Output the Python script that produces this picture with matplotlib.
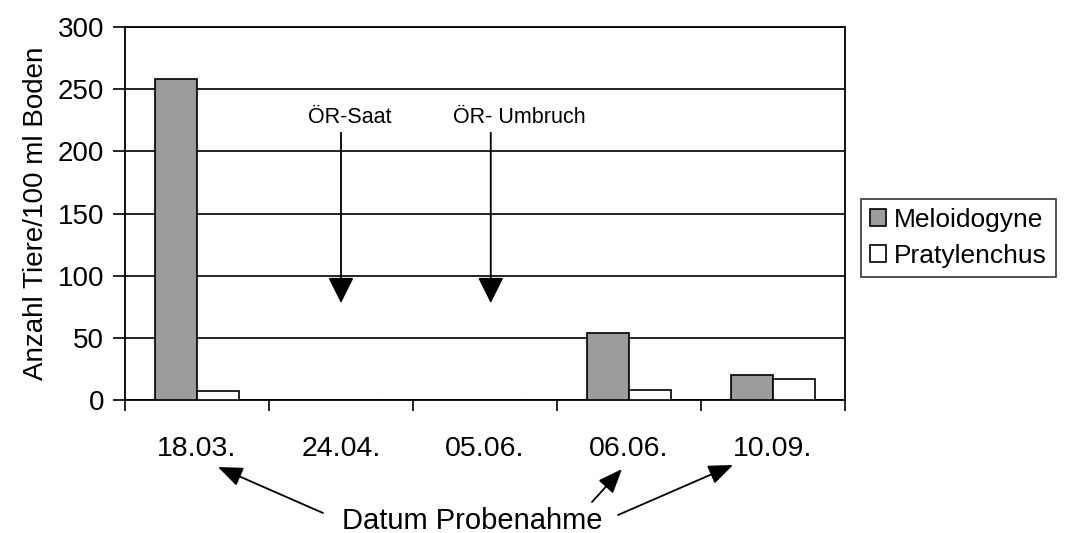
import numpy as np
import matplotlib
matplotlib.use("Agg")
import matplotlib.pyplot as plt
from matplotlib.ticker import FixedLocator

plt.rcParams['font.family'] = ['Liberation Sans', 'DejaVu Sans']

dates = ['18.03.', '24.04.', '05.06.', '06.06.', '10.09.']
meloidogyne = [258, 0, 0, 54, 20]
pratylenchus = [7, 0, 0, 8, 17]
events = ['ÖR-Saat', 'ÖR- Umbruch']
event_pos = [1.0, 2.04]

fig = plt.figure(figsize=(10.66, 5.33), dpi=100)
ax = fig.add_axes([125/1066, 1-400/533, 720/1066, 373/533])

x = np.arange(len(dates))
w = 0.29
ax.bar(x - w/2, meloidogyne, w, color='#9c9c9c', edgecolor='black', lw=1.2,
       label='Meloidogyne', zorder=3)
ax.bar(x + w/2, pratylenchus, w, color='white', edgecolor='black', lw=1.2,
       label='Pratylenchus', zorder=3)

ax.set_xlim(-0.5, len(dates) - 0.5)
ax.set_ylim(0, 300)
ax.set_yticks(range(0, 301, 50))
ax.yaxis.grid(True, color='black', lw=1.2, zorder=0)
ax.set_xticks(x)
ax.set_xticklabels(dates, fontsize=20.5)
ax.xaxis.set_minor_locator(FixedLocator(np.arange(-0.5, len(dates), 1)))
ax.tick_params(axis='x', which='major', length=0, pad=26)
ax.tick_params(axis='x', which='minor', length=8, width=1.2, direction='out')
ax.tick_params(axis='y', labelsize=20, length=9, width=1.2, pad=6)
for s in ax.spines.values():
    s.set_linewidth(1.3)
ax.set_ylabel('Anzahl Tiere/100 ml Boden', fontsize=20, labelpad=6)

# Pfeile für ÖR-Termine
for lbl, xp, dx in zip(events, event_pos, [0.06, 0.2]):
    ax.annotate('', xy=(xp, 78), xytext=(xp, 215),
                arrowprops=dict(arrowstyle='-|>,head_length=1.6,head_width=0.8',
                                color='black', lw=1.3, shrinkA=0, shrinkB=0),
                zorder=4)
    ax.text(xp + dx, 227, lbl, fontsize=15.5, ha='center', va='center', zorder=4)

# Beschriftung unten
fig.text(472/1066, 1-529/533, 'Datum Probenahme', fontsize=21,
         ha='center', va='baseline')
for tip, tail in [((218, 467), (323, 513)), ((622, 469), (592, 502)),
                  ((733, 465), (618, 515))]:
    ax.annotate('', xy=(tip[0], 533-tip[1]), xycoords='figure pixels',
                xytext=(tail[0], 533-tail[1]), textcoords='figure pixels',
                arrowprops=dict(arrowstyle='-|>,head_length=1.5,head_width=0.6',
                                color='black', lw=1.3, shrinkA=0, shrinkB=0),
                annotation_clip=False)

leg = ax.legend(loc='center left', bbox_to_anchor=(861/1066, 1-238/533),
                bbox_transform=fig.transFigure, fontsize=19, frameon=True,
                fancybox=False, edgecolor='black', handlelength=0.6,
                handleheight=0.6, handletextpad=0.3, borderpad=0.35,
                borderaxespad=0, labelspacing=0.45)
leg.get_frame().set_linewidth(1.2)

fig.savefig('out.png', dpi=100)
